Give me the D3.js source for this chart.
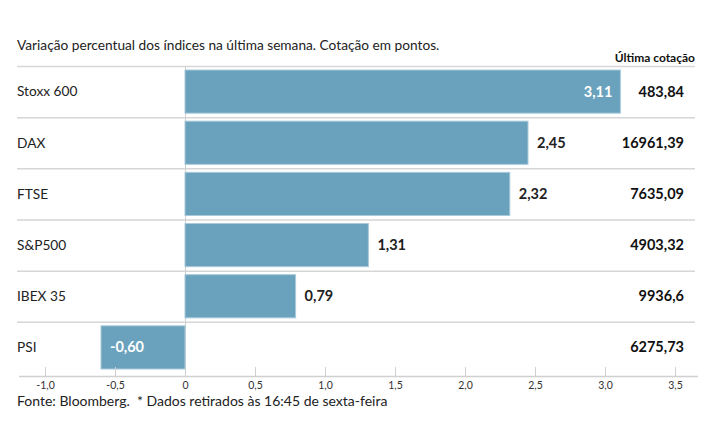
<!DOCTYPE html>
<html>
<head>
<meta charset="utf-8">
<script src="https://cdn.jsdelivr.net/npm/d3@7"></script>
<style>
  body { margin: 0; background: #fff; }
  svg { font-family: Lato, "Noto Sans", sans-serif; }
</style>
</head>
<body>
<div id="content"></div>
<script>
var indices = ['Stoxx 600', 'DAX', 'FTSE', 'S&P500', 'IBEX 35', 'PSI'];
var variacao = [3.11, 2.45, 2.32, 1.31, 0.79, -0.60];
var cotacao = ['483,84', '16961,39', '7635,09', '4903,32', '9936,6', '6275,73'];
var ticks = [-1.0, -0.5, 0, 0.5, 1.0, 1.5, 2.0, 2.5, 3.0, 3.5];

var width = 715, height = 445;
var fmt = function(v){ return v.toFixed(2).replace('.', ','); };
var tickFmt = function(v){ return v === 0 ? '0' : v.toFixed(1).replace('.', ','); };

var svg = d3.select('#content').append('svg')
    .attr('width', width)
    .attr('height', height);

var xScale = d3.scaleLinear()
    .domain([-1.0, 3.5])
    .range([45, 675]);

var yScale = d3.scaleBand()
    .domain(indices)
    .range([66, 373]);

var inset = 4;

svg.append('text')
    .attr('x', 17).attr('y', 50)
    .style('font-size', '13.7px')
    .style('fill', '#222')
    .text('Variação percentual dos índices na última semana. Cotação em pontos.');

svg.append('text')
    .attr('x', 695).attr('y', 62)
    .attr('text-anchor', 'end')
    .style('font-size', '12px')
    .style('font-weight', 'bold')
    .style('fill', '#111')
    .text('Última cotação');

// row separators
svg.selectAll('line.sep').data(indices)
  .enter().append('line')
    .attr('class', 'sep')
    .attr('x1', 17).attr('x2', 695)
    .attr('y1', function(d){ return yScale(d) + 0.5; })
    .attr('y2', function(d){ return yScale(d) + 0.5; })
    .style('stroke', '#d6d6d6')
    .style('stroke-width', 1.5);

// zero line
svg.append('line')
    .attr('x1', xScale(0) + 0.5).attr('x2', xScale(0) + 0.5)
    .attr('y1', yScale.range()[0]).attr('y2', yScale.range()[1])
    .style('stroke', '#cfcfcf');

var rows = svg.selectAll('g.row').data(indices)
  .enter().append('g')
    .attr('class', 'row');

rows.append('rect')
    .attr('x', function(d, i){ return xScale(Math.min(0, variacao[i])); })
    .attr('y', function(d){ return yScale(d) + inset; })
    .attr('width', function(d, i){ return Math.abs(xScale(variacao[i]) - xScale(0)); })
    .attr('height', yScale.bandwidth() - 2 * inset)
    .style('fill', '#6aa2bd')
    .style('stroke', '#a9cadb')
    .style('stroke-width', 1);

rows.append('text')
    .attr('x', 17)
    .attr('y', function(d){ return yScale(d) + yScale.bandwidth() / 2; })
    .attr('dy', '0.35em')
    .style('font-size', '13.7px')
    .style('fill', '#222')
    .text(function(d){ return d; });

rows.append('text')
    .attr('x', function(d, i){
        var v = variacao[i];
        if (v < 0) return xScale(v) + 9;
        if (v > 3) return xScale(v) - 8;
        return xScale(v) + 9;
    })
    .attr('text-anchor', function(d, i){ return variacao[i] > 3 ? 'end' : 'start'; })
    .attr('y', function(d){ return yScale(d) + yScale.bandwidth() / 2; })
    .attr('dy', '0.35em')
    .style('font-size', '14.5px')
    .style('font-weight', 'bold')
    .style('fill', function(d, i){ return (variacao[i] < 0 || variacao[i] > 3) ? '#fff' : '#222'; })
    .text(function(d, i){ return fmt(variacao[i]); });

rows.append('text')
    .attr('x', 684)
    .attr('text-anchor', 'end')
    .attr('y', function(d){ return yScale(d) + yScale.bandwidth() / 2; })
    .attr('dy', '0.35em')
    .style('font-size', '14.5px')
    .style('font-weight', 'bold')
    .style('fill', '#111')
    .text(function(d, i){ return cotacao[i]; });

// axis
var xAxis = d3.axisBottom(xScale)
    .tickValues(ticks)
    .tickSize(-9)
    .tickPadding(7)
    .tickFormat(tickFmt);

var axisG = svg.append('g')
    .attr('transform', 'translate(0,376)')
    .call(xAxis);
axisG.select('.domain').remove();
axisG.append('line')
    .attr('x1', 19).attr('x2', 698)
    .attr('y1', 0.5).attr('y2', 0.5)
    .style('stroke', '#d0d0d0')
    .style('stroke-width', 1.5);
axisG.selectAll('.tick line').style('stroke', '#cfcfcf');
axisG.selectAll('.tick text')
    .attr('dy', '0.71em')
    .attr('y', 6)
    .style('font-size', '10.5px')
    .style('font-family', 'Lato, sans-serif')
    .style('fill', '#333');

svg.append('text')
    .attr('x', 17).attr('y', 406)
    .attr('xml:space', 'preserve')
    .style('white-space', 'pre')
    .style('font-size', '14px')
    .style('fill', '#222')
    .text('Fonte: Bloomberg.  * Dados retirados às 16:45 de sexta-feira');
</script>
</body>
</html>
